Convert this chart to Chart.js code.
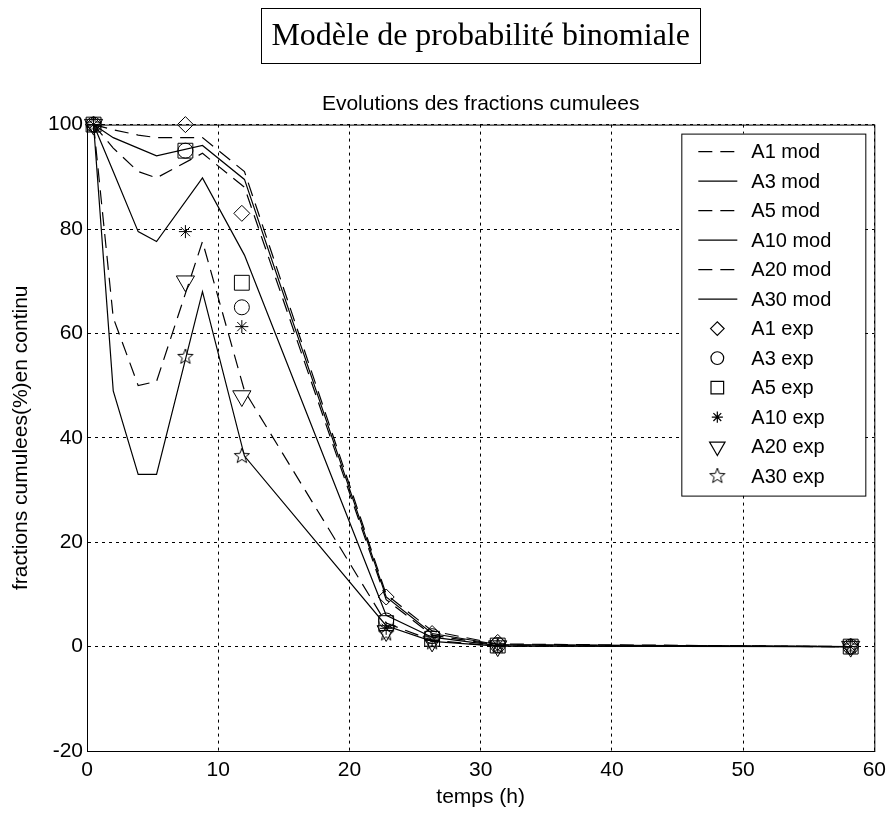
<!DOCTYPE html>
<html>
<head>
<meta charset="utf-8">
<script src="https://cdn.jsdelivr.net/npm/chart.js@4.4.0/dist/chart.umd.min.js"></script>
<style>
html, body { margin: 0; padding: 0; background: #fff; }
</style>
</head>
<body>
<canvas id="graphe" width="893" height="817"></canvas>
<script>
// temps (h) des points du modele et des mesures
const tMod = [0.5, 2, 3.9, 5.3, 8.8, 12, 22.8, 26.3, 31.3, 58.2];
const a1Mod = [100, 99, 98, 97.5, 97.5, 91, 10, 3, 0.5, 0];
const a3Mod = [100, 97.5, 95.5, 94, 96, 89.5, 9.5, 2.5, 0.4, 0];
const a5Mod = [100, 95.5, 91, 89.8, 94.5, 88, 9, 2.2, 0.3, 0];
const a10Mod = [100, 91, 79.5, 77.6, 89.8, 75, 6, 1.8, 0.2, 0];
const a20Mod = [100, 63, 50, 50.8, 77.6, 49, 4.5, 1.2, 0.1, 0];
const a30Mod = [100, 49, 33, 33, 68, 36.5, 4, 1, 0.1, 0];

const tExp = [0.5, 7.5, 11.8, 22.8, 26.3, 31.3, 58.2];
const a1Exp = [100, 100, 83, 9.5, 2.5, 0.8, 0];
const a3Exp = [100, 95, 65, 5, 2, 0.3, 0];
const a5Exp = [100, 95, 69.7, 4.5, 1.5, 0.2, 0];
const a10Exp = [100, 79.5, 61.3, 3.5, 1.2, 0.2, 0];
const a20Exp = [100, 70, 48, 3, 1, 0.1, 0];
const a30Exp = [100, 55.5, 36.5, 2.5, 0.8, 0.1, 0];

const xTicks = [0, 10, 20, 30, 40, 50, 60];
const yTicks = [-20, 0, 20, 40, 60, 80, 100];

const titre = 'Modèle de probabilité binomiale';
const sousTitre = 'Evolutions des fractions cumulees';

function points(t, v) {
    return t.map((x, i) => ({ x: x, y: v[i] }));
}

// etoile a 5 branches (marqueur 'p' de matlab)
function pentagramme(r) {
    const c = document.createElement('canvas');
    const s = Math.ceil(r * 2 + 4);
    c.width = s;
    c.height = s;
    const g = c.getContext('2d');
    g.strokeStyle = '#000';
    g.lineWidth = 1;
    g.beginPath();
    for (let i = 0; i < 10; i++) {
        const a = -Math.PI / 2 + i * Math.PI / 5;
        const rr = i % 2 ? r * 0.42 : r;
        g.lineTo(s / 2 + rr * Math.cos(a), s / 2 + rr * Math.sin(a));
    }
    g.closePath();
    g.stroke();
    return c;
}

const tirets = [14, 8];

function courbe(label, v, dash) {
    return {
        label: label,
        data: points(tMod, v),
        borderColor: '#000',
        borderWidth: 1.2,
        borderDash: dash,
        pointRadius: 0,
        tension: 0,
        fill: false
    };
}

function mesure(label, v, style, r, rot) {
    return {
        label: label,
        data: points(tExp, v),
        showLine: false,
        pointStyle: style,
        pointRadius: r,
        pointRotation: rot || 0,
        pointBorderColor: '#000',
        pointBackgroundColor: 'rgba(0,0,0,0)',
        pointBorderWidth: 1,
        clip: false
    };
}

const etoile = pentagramme(8);

const datasets = [
    courbe('A1 mod', a1Mod, tirets),
    courbe('A3 mod', a3Mod, []),
    courbe('A5 mod', a5Mod, tirets),
    courbe('A10 mod', a10Mod, []),
    courbe('A20 mod', a20Mod, tirets),
    courbe('A30 mod', a30Mod, []),
    mesure('A1 exp', a1Exp, 'rectRot', 8),
    mesure('A3 exp', a3Exp, 'circle', 7.5),
    mesure('A5 exp', a5Exp, 'rect', 10.5),
    mesure('A10 exp', a10Exp, 'star', 6.5),
    mesure('A20 exp', a20Exp, 'triangle', 10.5, 180),
    mesure('A30 exp', a30Exp, etoile, 8)
];

// cadre complet + cadre du titre + legende dans le graphe
const cadres = {
    id: 'cadres',
    afterDraw(chart) {
        const ctx = chart.ctx;
        const a = chart.chartArea;
        ctx.save();
        ctx.strokeStyle = '#000';
        ctx.lineWidth = 1;
        ctx.setLineDash([]);
        ctx.strokeRect(a.left + 0.5, a.top + 0.5, a.right - a.left, a.bottom - a.top);

        // titre encadre
        const tb = chart.titleBlock;
        ctx.font = '32px "Liberation Serif"';
        const w = ctx.measureText(titre).width;
        const cx = tb.left + tb.width / 2;
        ctx.strokeRect(Math.round(cx - w / 2 - 10) + 0.5, 8.5, Math.round(w + 20), 55);

        // legende
        const lx = a.right - 193, ly = a.top + 9, lw = 184, lh = 362;
        ctx.fillStyle = '#fff';
        ctx.fillRect(lx, ly, lw, lh);
        ctx.strokeRect(lx + 0.5, ly + 0.5, lw, lh);
        ctx.font = '20px "Liberation Sans"';
        ctx.textBaseline = 'middle';
        chart.data.datasets.forEach((ds, i) => {
            const y = ly + 18 + i * 29.5;
            ctx.strokeStyle = '#000';
            if (ds.showLine === false) {
                ctx.fillStyle = 'rgba(0,0,0,0)';
                Chart.helpers.drawPoint(ctx, {
                    pointStyle: ds.pointStyle,
                    radius: ds.pointRadius * 0.85,
                    rotation: ds.pointRotation,
                    borderWidth: 1
                }, lx + 36, y);
            } else {
                ctx.lineWidth = 1.2;
                ctx.setLineDash(ds.borderDash);
                ctx.beginPath();
                ctx.moveTo(lx + 17, y);
                ctx.lineTo(lx + 56, y);
                ctx.stroke();
                ctx.setLineDash([]);
            }
            ctx.fillStyle = '#000';
            ctx.fillText(ds.label, lx + 70, y + 1);
        });
        ctx.restore();
    }
};

const police = 'Liberation Sans';

new Chart(document.getElementById('graphe').getContext('2d'), {
    type: 'line',
    data: { datasets: datasets },
    plugins: [cadres],
    options: {
        responsive: false,
        animation: false,
        devicePixelRatio: 1,
        layout: { padding: { left: 0, right: 11, top: 0, bottom: 0 } },
        scales: {
            x: {
                type: 'linear',
                min: 0,
                max: 60,
                afterBuildTicks: s => { s.ticks = xTicks.map(v => ({ value: v })); },
                afterFit: s => { s.height = 66; },
                ticks: { color: '#000', font: { family: police, size: 21 }, padding: 7 },
                grid: { color: '#000', lineWidth: 1, drawTicks: false },
                border: { display: true, color: '#000', dash: [3, 4] },
                title: {
                    display: true,
                    text: 'temps (h)',
                    color: '#000',
                    font: { family: police, size: 21 },
                    padding: { top: 0, bottom: 7 }
                }
            },
            y: {
                type: 'linear',
                min: -20,
                max: 100,
                afterBuildTicks: s => { s.ticks = yTicks.map(v => ({ value: v })); },
                afterFit: s => { s.width = 87; },
                ticks: { color: '#000', font: { family: police, size: 21 }, padding: 4 },
                grid: { color: '#000', lineWidth: 1, drawTicks: false },
                border: { display: true, color: '#000', dash: [3, 4] },
                title: {
                    display: true,
                    text: 'fractions cumulees(%)en continu',
                    color: '#000',
                    font: { family: police, size: 21 },
                    padding: { top: 9, bottom: 0 }
                }
            }
        },
        plugins: {
            legend: { display: false },
            tooltip: { enabled: false },
            title: {
                display: true,
                text: titre,
                fullSize: false,
                color: '#000',
                font: { family: 'Liberation Serif', size: 32, weight: 'normal' },
                padding: { top: 17, bottom: 15 }
            },
            subtitle: {
                display: true,
                text: sousTitre,
                fullSize: false,
                color: '#000',
                font: { family: police, size: 21, weight: 'normal' },
                padding: { top: 21, bottom: 8 }
            }
        }
    }
});
</script>
</body>
</html>
